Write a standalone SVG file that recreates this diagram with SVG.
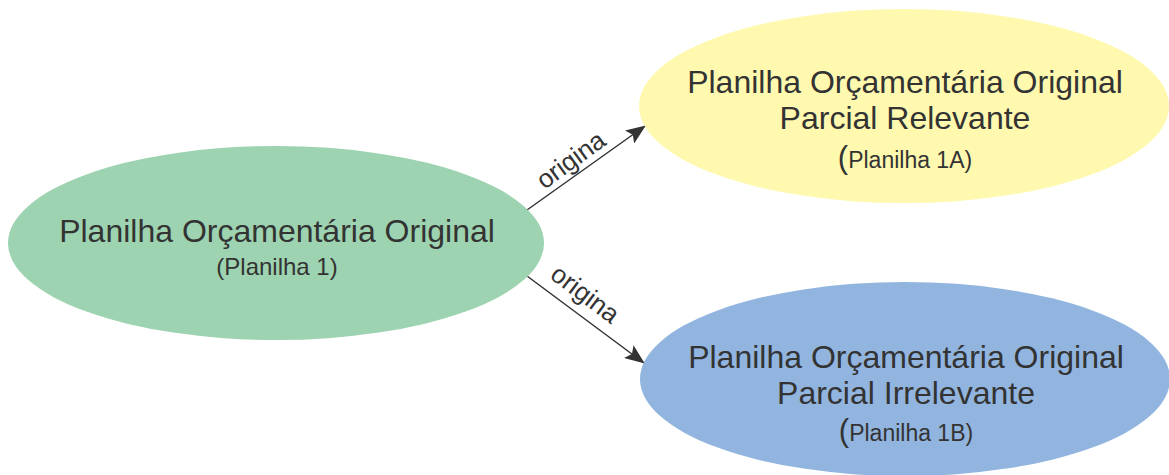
<svg xmlns="http://www.w3.org/2000/svg" width="1169" height="475" viewBox="0 0 1169 475">
<style>
text{font-family:"Liberation Sans",Arial,sans-serif;fill:#333;text-anchor:middle}
.big{font-size:32px}
.small{font-size:24px}
.lbl{font-size:26px}
.conn{stroke:#333;stroke-width:1.5;fill:none}
</style>
<defs>
<marker id="ah2" viewBox="0 0 20 16" refX="19" refY="8" markerWidth="20" markerHeight="16" markerUnits="userSpaceOnUse" orient="auto">
<path d="M0,0 L20,8 L0,16 L4,8 Z" fill="#333"/>
</marker>
</defs>
<rect width="1169" height="475" fill="#fff"/>
<g id="connectors">
<line class="conn" x1="527" y1="210" x2="645" y2="126" marker-end="url(#ah2)"/>
<line class="conn" x1="527" y1="276" x2="644" y2="363" marker-end="url(#ah2)"/>
<text class="lbl" transform="translate(576,167) rotate(-36)">origina</text>
<text class="lbl" transform="translate(580,301) rotate(37)">origina</text>
</g>
<g id="node1">
<ellipse cx="276" cy="243" rx="268" ry="97" fill="#9dd3b0"/>
<text class="big" x="277" y="242">Planilha Orçamentária Original</text>
<text class="small" x="277" y="275">(Planilha 1)</text>
</g>
<g id="node1a">
<ellipse cx="904" cy="106" rx="265" ry="97" fill="#fff9b0"/>
<text class="big" x="905" y="93">Planilha Orçamentária Original</text>
<text class="big" x="905" y="129">Parcial Relevante</text>
<text x="905" y="168"><tspan font-size="31">(</tspan><tspan font-size="23">Planilha 1A)</tspan></text>
</g>
<g id="node1b">
<ellipse cx="905" cy="379" rx="265" ry="97" fill="#92b5df"/>
<text class="big" x="906" y="368">Planilha Orçamentária Original</text>
<text class="big" x="906" y="404">Parcial Irrelevante</text>
<text x="906" y="441"><tspan font-size="31">(</tspan><tspan font-size="23">Planilha 1B)</tspan></text>
</g>
</svg>
